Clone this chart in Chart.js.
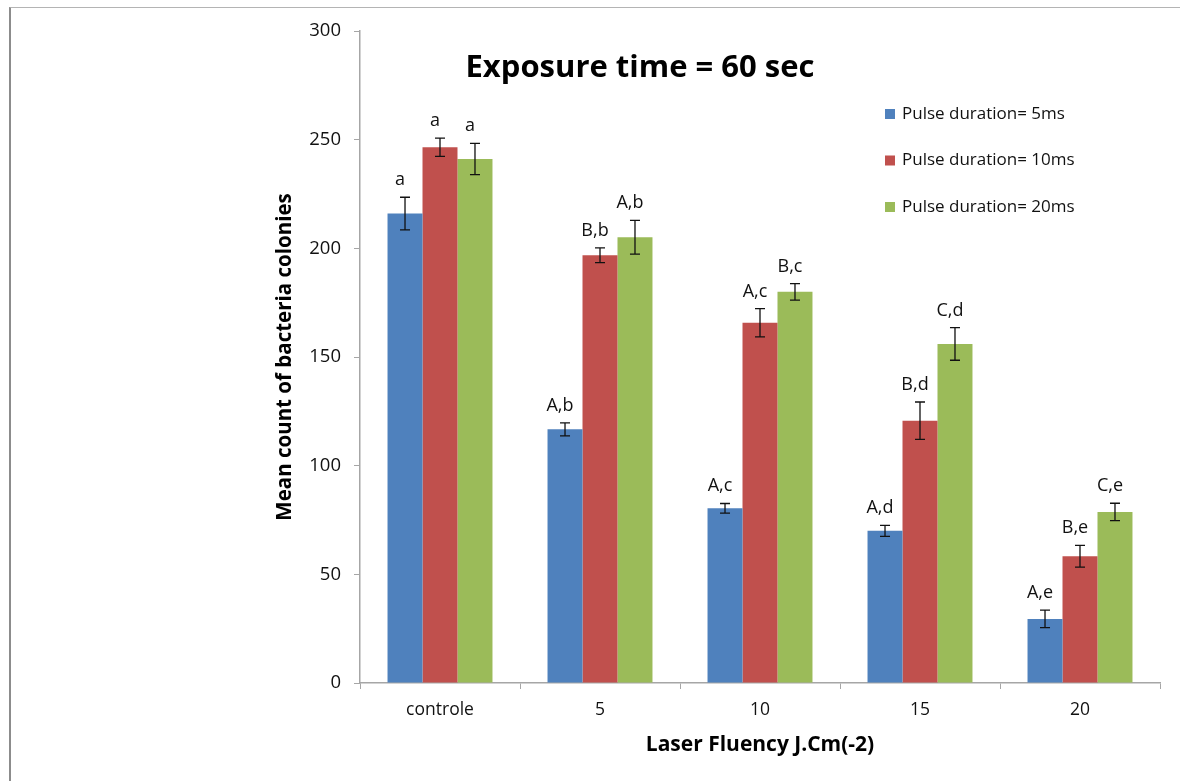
<!DOCTYPE html>
<html>
<head>
<meta charset="utf-8">
<script src="https://cdn.jsdelivr.net/npm/chart.js@4.4.1/dist/chart.umd.min.js"></script>
<style>
  body { margin: 0; background: #fff; }
  #marco { position: absolute; left: 9px; top: 7px; width: 1200px; height: 800px;
           border-left: 2px solid #8c8c8c; border-top: 1px solid #b4b4b4; }
  #caja { position: absolute; left: 0; top: 0; width: 1180px; height: 781px; }
</style>
</head>
<body>
<div id="marco"></div>
<div id="caja"><canvas id="grafico" width="1180" height="781"></canvas></div>
<script>
// datos
const categorias = ['controle', '5', '10', '15', '20'];
const ticksY = [0, 50, 100, 150, 200, 250, 300];

const pulso5 = [216, 116.7, 80.4, 70, 29.5];
const pulso10 = [246.5, 196.8, 165.8, 120.7, 58.3];
const pulso20 = [241.1, 205.1, 180, 156, 78.7];

const err5 = [7.5, 3, 2.2, 2.5, 4];
const err10 = [4.2, 3.4, 6.5, 8.6, 5];
const err20 = [7.2, 7.8, 3.8, 7.5, 4];

const letras5 = ['a', 'A,b', 'A,c', 'A,d', 'A,e'];
const letras10 = ['a', 'B,b', 'A,c', 'B,d', 'B,e'];
const letras20 = ['a', 'A,b', 'B,c', 'C,d', 'C,e'];

const azul = '#4F81BD';
const rojo = '#C0504D';
const verde = '#9BBB59';
const fuente = "'Open Sans', 'Noto Sans', sans-serif";

// barras de error + letras encima
const erroresPlugin = {
  id: 'errores',
  afterDatasetsDraw(chart) {
    const ctx = chart.ctx;
    const y = chart.scales.y;
    ctx.save();
    chart.data.datasets.forEach(function (ds, i) {
      const meta = chart.getDatasetMeta(i);
      meta.data.forEach(function (bar, j) {
        const v = ds.data[j];
        const e = ds.errores[j];
        const top = y.getPixelForValue(v + e);
        const bot = y.getPixelForValue(v - e);
        ctx.strokeStyle = '#111';
        ctx.lineWidth = 1.3;
        ctx.beginPath();
        ctx.moveTo(bar.x, top); ctx.lineTo(bar.x, bot);
        ctx.moveTo(bar.x - 5, top); ctx.lineTo(bar.x + 5, top);
        ctx.moveTo(bar.x - 5, bot); ctx.lineTo(bar.x + 5, bot);
        ctx.stroke();

        ctx.fillStyle = '#111';
        ctx.font = '18px ' + fuente;
        ctx.textAlign = 'center';
        ctx.textBaseline = 'alphabetic';
        ctx.fillText(ds.letras[j], bar.x - 5, top - 12);
      });
    });
    ctx.restore();
  }
};

// titulo y leyenda a mano, como en la figura
const decoracionPlugin = {
  id: 'decoracion',
  afterDraw(chart) {
    const ctx = chart.ctx;
    ctx.save();
    ctx.fillStyle = '#000';
    ctx.font = 'bold 31px ' + fuente;
    ctx.textAlign = 'center';
    ctx.textBaseline = 'middle';
    ctx.fillText('Exposure time = 60 sec', 640, 68);

    ctx.font = '17px ' + fuente;
    ctx.textAlign = 'left';
    chart.data.datasets.forEach(function (ds, i) {
      const cy = 114 + i * 46.5;
      ctx.fillStyle = ds.backgroundColor;
      ctx.fillRect(885, cy - 5, 10, 10);
      ctx.fillStyle = '#111';
      ctx.fillText(ds.label, 902, cy);
    });
    ctx.restore();
  }
};

new Chart(document.getElementById('grafico'), {
  type: 'bar',
  data: {
    labels: categorias,
    datasets: [
      { label: 'Pulse duration= 5ms', data: pulso5, errores: err5, letras: letras5, backgroundColor: azul },
      { label: 'Pulse duration= 10ms', data: pulso10, errores: err10, letras: letras10, backgroundColor: rojo },
      { label: 'Pulse duration= 20ms', data: pulso20, errores: err20, letras: letras20, backgroundColor: verde }
    ]
  },
  options: {
    responsive: false,
    animation: false,
    devicePixelRatio: 1,
    categoryPercentage: 0.656,
    barPercentage: 1,
    layout: { padding: { left: 273, top: 31, right: 20, bottom: 23 } },
    plugins: {
      legend: { display: false },
      tooltip: { enabled: false }
    },
    scales: {
      x: {
        afterFit: function (s) { s.height = 75; },
        grid: { display: true, drawOnChartArea: false, offset: true, tickLength: 6, color: '#a6a6a6' },
        border: { color: '#a6a6a6', width: 1.5 },
        ticks: { color: '#111', font: { family: fuente, size: 17.5 }, padding: 11 },
        title: { display: true, text: 'Laser Fluency J.Cm(-2)', color: '#000',
                 font: { family: fuente, size: 21, weight: 'bold' }, padding: 0 }
      },
      y: {
        min: 0,
        max: 300,
        afterFit: function (s) { s.width = 87; },
        afterBuildTicks: function (s) { s.ticks = ticksY.map(function (v) { return { value: v }; }); },
        grid: { display: true, drawOnChartArea: false, tickLength: 6, color: '#a6a6a6' },
        border: { color: '#a6a6a6', width: 1.5 },
        ticks: { color: '#111', font: { family: fuente, size: 18.5 }, padding: 13 },
        title: { display: true, text: 'Mean count of bacteria colonies', color: '#000',
                 font: { family: fuente, size: 20.5, weight: 'bold' }, padding: 0 }
      }
    }
  },
  plugins: [erroresPlugin, decoracionPlugin]
});
</script>
</body>
</html>
